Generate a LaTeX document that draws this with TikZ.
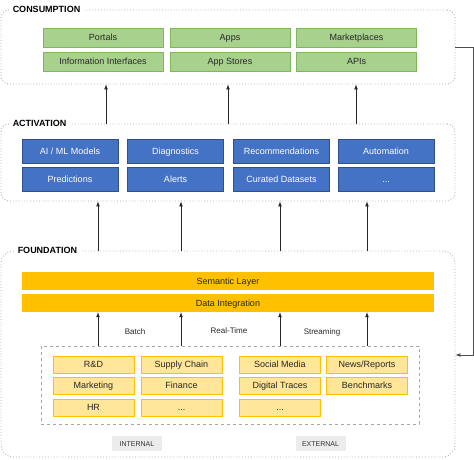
\documentclass[tikz,border=0pt]{standalone}
\usepackage{fontspec}
\setmainfont{Liberation Sans}
\usetikzlibrary{positioning,arrows,calc}
\definecolor{grn}{HTML}{A9D18E}
\definecolor{grnline}{HTML}{7FB75E}
\definecolor{blu}{HTML}{4472C4}
\definecolor{bluline}{HTML}{2F4F8F}
\definecolor{amber}{HTML}{FFC000}
\definecolor{lightamber}{HTML}{FFE699}

\begin{document}
\begin{tikzpicture}[x=1pt,y=-1pt,>=latex,
	every node/.style={text height=6.5pt,text depth=0pt},
	layer/.style={draw=gray!60,dotted,line width=0.9pt,rounded corners=8pt,inner sep=0pt},
	title/.style={fill=white,font=\bfseries\fontsize{9}{10}\selectfont,anchor=west,inner sep=4pt},
	usebox/.style={draw=grnline,fill=grn,line width=0.6pt,minimum width=120pt,minimum height=19pt,
		inner sep=0pt,font=\fontsize{9}{10}\selectfont,text=black!85},
	mlbox/.style={draw=bluline,fill=blu,line width=0.6pt,minimum width=96pt,minimum height=24pt,
		inner sep=0pt,font=\fontsize{9}{10}\selectfont,text=white},
	bar/.style={fill=amber,minimum width=412pt,minimum height=18pt,inner sep=0pt,
		font=\fontsize{9}{10}\selectfont,text=black!85},
	src/.style={draw=amber,fill=lightamber,line width=0.8pt,minimum width=81pt,minimum height=17pt,
		inner sep=0pt,font=\fontsize{9}{10}\selectfont,text=black!85},
	tag/.style={fill=gray!15,minimum width=50pt,minimum height=15pt,inner sep=0pt,
		font=\fontsize{7}{8}\selectfont,text=black!80},
	flow/.style={font=\fontsize{8}{9}\selectfont,text=black!85},
	arr/.style={->,line width=0.7pt,black!85}]
\useasboundingbox (0,0) rectangle (474,459);

% layers
\node[layer,minimum width=454pt,minimum height=74pt] (cons) at (228,47) {};
\node[layer,minimum width=454pt,minimum height=77pt] (act) at (228,162.5) {};
\node[layer,rounded corners=12pt,minimum width=454pt,minimum height=206pt] (found) at (228,354) {};
\node[title] (tcons) at ([xshift=8pt]cons.north west) {CONSUMPTION};
\node[title] (tact) at ([xshift=8pt]act.north west) {ACTIVATION};
\node[title] (tfound) at ([xshift=13pt]found.north west) {FOUNDATION};

% consumption
\node[usebox] (portals) at (103,37.5) {Portals};
\node[usebox] (apps) at (230,37.5) {Apps};
\node[usebox] (market) at (356.5,37.5) {Marketplaces};
\node[usebox] (info) at (103,61.5) {Information Interfaces};
\node[usebox] (stores) at (230,61.5) {App Stores};
\node[usebox] (apis) at (356.5,61.5) {APIs};

% activation
\node[mlbox] (aiml) at (70,151) {AI / ML Models};
\node[mlbox] (diag) at (175.5,151) {Diagnostics};
\node[mlbox] (recom) at (281.5,151) {Recommendations};
\node[mlbox] (auto) at (386,151) {Automation};
\node[mlbox] (pred) at (70,179) {Predictions};
\node[mlbox] (alerts) at (175.5,179) {Alerts};
\node[mlbox] (curated) at (281.5,179) {Curated Datasets};
\node[mlbox] (more) at (386,179) {...};

% foundation
\node[bar] (sem) at (228,281) {Semantic Layer};
\node[bar] (di) at (228,303) {Data Integration};
\node[draw=gray!70,dashed,line width=0.6pt,minimum width=378pt,minimum height=78pt,inner sep=0pt]
	(sources) at (230,385) {};
\node[src] (rd) at (93.5,364.5) {R\&D};
\node[src] (supply) at (181.5,364.5) {Supply Chain};
\node[src] (social) at (280,364.5) {Social Media};
\node[src] (news) at (367,364.5) {News/Reports};
\node[src] (mkt) at (93.5,385.5) {Marketing};
\node[src] (fin) at (181.5,385.5) {Finance};
\node[src] (traces) at (280,385.5) {Digital Traces};
\node[src] (bench) at (367,385.5) {Benchmarks};
\node[src] (hr) at (93.5,407.5) {HR};
\node[src] (intmore) at (181.5,407.5) {...};
\node[src] (extmore) at (280,407.5) {...};
\node[tag] (internal) at (137,443.5) {INTERNAL};
\node[tag] (external) at (320.5,443.5) {EXTERNAL};

% arrows
\foreach \x in {106,228,356}
	\draw[arr] (act.north -| \x,0) -- (cons.south -| \x,0);
\foreach \x in {98,181,280,367}{
	\draw[arr] (found.north -| \x,0) -- (act.south -| \x,0);
	\draw[arr] (sources.north -| \x,0) -- (di.south -| \x,0);
}
\node[flow] (batch) at (135,331) {Batch};
\node[flow] (rt) at (229,330) {Real-Time};
\node[flow] (stream) at (322,331) {Streaming};

% feedback
\coordinate (fb) at (473,355);
\draw[arr,black!70] (cons.east) -| (fb) -- (fb -| found.east);
\end{tikzpicture}
\end{document}
